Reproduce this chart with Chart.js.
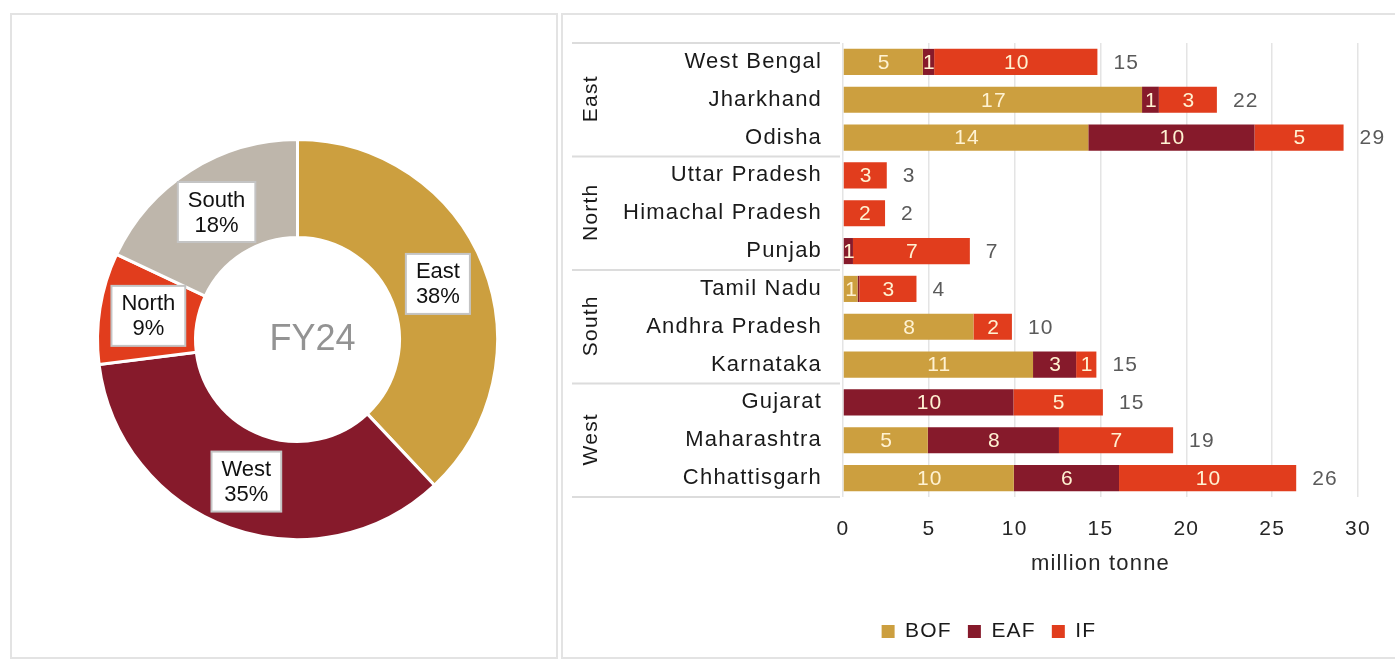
<!DOCTYPE html>
<html>
<head>
<meta charset="utf-8">
<title>Steel capacity by region and route, FY24</title>
<script src="https://cdn.jsdelivr.net/npm/chart.js@4.4.1/dist/chart.umd.min.js"></script>
<style>
  html, body { margin: 0; padding: 0; background: #ffffff; }
  body { width: 1395px; height: 660px; position: relative; overflow: hidden; font-family: "Liberation Sans", Arial, sans-serif; }
  .panel { position: absolute; border: 2px solid #e3e3e3; box-sizing: border-box; }
  #panelLeft { left: 10px; top: 13px; width: 548px; height: 646px; }
  #panelRight { left: 561px; top: 13px; width: 840px; height: 646px; }
  canvas { position: absolute; }
  #donut { left: 10px; top: 14px; }
  #bars { left: 562px; top: 14px; }
</style>
</head>
<body>
<div class="panel" id="panelLeft"></div>
<div class="panel" id="panelRight"></div>
<canvas id="donut" width="547" height="646"></canvas>
<canvas id="bars" width="833" height="646"></canvas>

<script>
// ---- Regional share of capacity (FY24), in per cent
const regions = ['East', 'West', 'North', 'South'];
const regionShare = [38, 35, 9, 18];
const centreTitle = 'FY24';

// ---- State-wise capacity by production route, million tonne
const states = ['West Bengal', 'Jharkhand', 'Odisha',
                'Uttar Pradesh', 'Himachal Pradesh', 'Punjab',
                'Tamil Nadu', 'Andhra Pradesh', 'Karnataka',
                'Gujarat', 'Maharashtra', 'Chhattisgarh'];
const stateRegion = ['East', 'East', 'East',
                     'North', 'North', 'North',
                     'South', 'South', 'South',
                     'West', 'West', 'West'];
const bofValues = [4.65, 17.42, 14.29, 0, 0, 0, 0.85, 7.60, 11.07, 0, 4.94, 9.95];
const eafValues = [0.66, 0.98, 9.68, 0, 0, 0.58, 0.10, 0, 2.51, 9.93, 7.64, 6.13];
const ifValues  = [9.51, 3.38, 5.19, 2.55, 2.45, 6.81, 3.33, 2.24, 1.18, 5.21, 6.65, 10.32];
const routeNames = ['BOF', 'EAF', 'IF'];
const xTicks = [0, 5, 10, 15, 20, 25, 30];
const xTitle = 'million tonne';

// ---- Palette
const GOLD = '#CC9F3F';
const WINE = '#861A2B';
const FLAME = '#E13D1D';
const STONE = '#BEB6AB';

const FONT = '"Liberation Sans", Arial, sans-serif';
Chart.defaults.font.family = FONT;
Chart.defaults.color = '#1a1a1a';

// ================= Doughnut: regional split =================
const donutLabels = {
  id: 'donutLabels',
  afterDatasetsDraw(chart) {
    const ctx = chart.ctx;
    const meta = chart.getDatasetMeta(0);
    ctx.save();
    ctx.font = '22px ' + FONT;
    ctx.textAlign = 'center';
    ctx.textBaseline = 'middle';
    meta.data.forEach((arc, i) => {
      const p = arc.tooltipPosition();
      const lines = [chart.data.labels[i], chart.data.datasets[0].data[i] + '%'];
      const w = Math.max(...lines.map(t => ctx.measureText(t).width)) + 20;
      const lh = 25;
      const h = lh * lines.length + 10;
      ctx.fillStyle = '#ffffff';
      ctx.fillRect(p.x - w / 2, p.y - h / 2, w, h);
      ctx.strokeStyle = '#c4c4c4';
      ctx.lineWidth = 2;
      ctx.strokeRect(p.x - w / 2, p.y - h / 2, w, h);
      ctx.fillStyle = '#111111';
      lines.forEach((t, k) => {
        ctx.fillText(t, p.x, p.y + (k - (lines.length - 1) / 2) * lh + 1);
      });
    });
    // centre caption
    const a = meta.data[0];
    ctx.font = '36px ' + FONT;
    ctx.fillStyle = '#939393';
    ctx.fillText(centreTitle, a.x + 15, a.y + 1);
    ctx.restore();
  }
};

new Chart(document.getElementById('donut'), {
  type: 'doughnut',
  data: {
    labels: regions,
    datasets: [{
      data: regionShare,
      backgroundColor: [GOLD, WINE, FLAME, STONE],
      borderColor: '#ffffff',
      borderWidth: 3
    }]
  },
  options: {
    responsive: false,
    animation: false,
    cutout: '51%',
    layout: { padding: { left: 86, right: 58, top: 124, bottom: 119 } },
    plugins: { legend: { display: false }, tooltip: { enabled: false } }
  },
  plugins: [donutLabels]
});

// ================= Stacked bars: states by route =================
const TRACK = '1.2px';

// slightly wider letter tracking for all text of this chart
const tracking = {
  id: 'tracking',
  beforeLayout(chart) { chart.ctx.letterSpacing = TRACK; },
  beforeDraw(chart) { chart.ctx.letterSpacing = TRACK; }
};

const segmentLabels = {
  id: 'segmentLabels',
  afterDatasetsDraw(chart) {
    const ctx = chart.ctx;
    const xs = chart.scales.x;
    ctx.save();
    ctx.letterSpacing = TRACK;
    ctx.font = '21px ' + FONT;
    ctx.textBaseline = 'middle';
    // values inside the segments
    ctx.textAlign = 'center';
    ctx.fillStyle = '#FFF2D2';
    chart.data.datasets.forEach((ds, di) => {
      const meta = chart.getDatasetMeta(di);
      meta.data.forEach((bar, i) => {
        const v = Math.round(ds.data[i]);
        if (!v) return;
        const { x, base, y } = bar.getProps(['x', 'base', 'y'], true);
        ctx.fillText(String(v), (x + base) / 2 + 1, y + 1);
      });
    });
    // totals at the end of each bar
    ctx.textAlign = 'left';
    ctx.fillStyle = '#5a5a5a';
    const ys = chart.scales.y;
    states.forEach((s, i) => {
      const total = bofValues[i] + eafValues[i] + ifValues[i];
      ctx.fillText(String(Math.round(total)), xs.getPixelForValue(total) + 16, ys.getPixelForValue(i) + 1);
    });
    ctx.restore();
  }
};

const regionGroups = {
  id: 'regionGroups',
  afterDraw(chart) {
    const ctx = chart.ctx;
    const ys = chart.scales.y;
    const step = ys.getPixelForValue(1) - ys.getPixelForValue(0);
    const groups = [];
    stateRegion.forEach((r, i) => {
      const g = groups[groups.length - 1];
      if (g && g.name === r) g.last = i; else groups.push({ name: r, first: i, last: i });
    });
    ctx.save();
    ctx.strokeStyle = '#dcdcdc';
    ctx.lineWidth = 2;
    const x0 = 10, x1 = chart.chartArea.left - 3;
    const edges = [ys.getPixelForValue(0) - step / 2];
    groups.forEach(g => edges.push(ys.getPixelForValue(g.last) + step / 2));
    edges.forEach(y => {
      ctx.beginPath();
      ctx.moveTo(x0, y);
      ctx.lineTo(x1, y);
      ctx.stroke();
    });
    ctx.letterSpacing = TRACK;
    ctx.font = '21px ' + FONT;
    ctx.fillStyle = '#1a1a1a';
    ctx.textAlign = 'center';
    ctx.textBaseline = 'middle';
    groups.forEach(g => {
      const yc = (ys.getPixelForValue(g.first) + ys.getPixelForValue(g.last)) / 2;
      ctx.save();
      ctx.translate(29, yc);
      ctx.rotate(-Math.PI / 2);
      ctx.fillText(g.name, 1, 0);
      ctx.restore();
    });
    ctx.restore();
  }
};

new Chart(document.getElementById('bars'), {
  type: 'bar',
  data: {
    labels: states,
    datasets: [
      { label: routeNames[0], data: bofValues, backgroundColor: GOLD },
      { label: routeNames[1], data: eafValues, backgroundColor: WINE },
      { label: routeNames[2], data: ifValues, backgroundColor: FLAME }
    ]
  },
  options: {
    indexAxis: 'y',
    responsive: false,
    animation: false,
    layout: { padding: { top: 29, right: 37, bottom: 8, left: 58 } },
    datasets: { bar: { categoryPercentage: 1, barPercentage: 0.69 } },
    scales: {
      x: {
        stacked: true,
        min: xTicks[0],
        max: xTicks[xTicks.length - 1],
        afterBuildTicks(scale) { scale.ticks = xTicks.map(v => ({ value: v })); },
        ticks: { padding: 20, font: { size: 21 }, color: '#262626' },
        grid: { color: '#e4e4e4', lineWidth: 1.5, drawTicks: false },
        border: { display: false },
        title: { display: true, text: xTitle, font: { size: 22 }, color: '#262626', padding: { top: 0, bottom: 28 } },
        afterFit(scale) { scale.height = 108; }
      },
      y: {
        stacked: true,
        grid: { display: false },
        border: { display: false },
        ticks: { padding: 13, font: { size: 22 }, color: '#1a1a1a' },
        afterFit(scale) { scale.width = 223; }
      }
    },
    plugins: {
      legend: {
        position: 'bottom',
        labels: { boxWidth: 13, boxHeight: 13, font: { size: 21 }, color: '#1a1a1a', padding: 16 }
      },
      tooltip: { enabled: false }
    }
  },
  plugins: [tracking, segmentLabels, regionGroups]
});
</script>
</body>
</html>
